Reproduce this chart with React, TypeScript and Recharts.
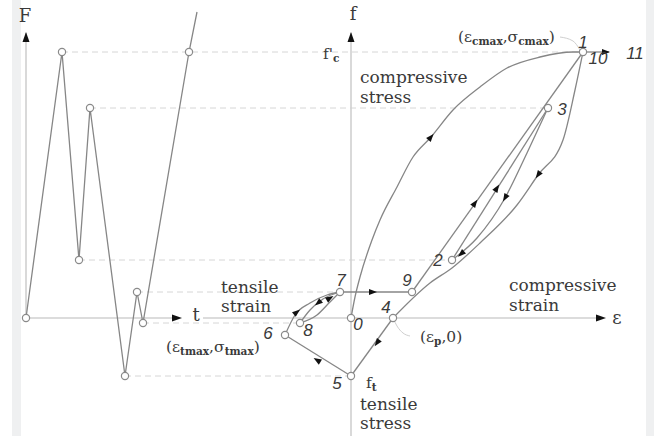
import { ComposedChart, Line, Scatter, XAxis, YAxis } from "recharts";

const W = 664;
const H = 436;

// left panel: load history F(t)
const loadT = [0, 36, 53, 64, 99, 111, 117, 163, 171];
const loadF = [0, 266, 58, 210, -58, 26, -5, 266, 306];

// numbered states on the stress-strain diagram
const stateStrain = [0, 232, 101, 197, 42, 0, -66, -11, -51, 61];
const stateStress = [0, 266, 58, 210, 0, -58, -17, 26, -5, 26];

// curved paths (strain, stress)
const envelopeStrain = [0, 4, 9, 21, 29, 46, 62, 80, 102, 129, 156, 189, 222, 232];
const envelopeStress = [0, 21, 41, 78, 98, 131, 161, 181, 208, 231, 250, 261, 266, 266];
const unloadStrain = [42, 79, 101, 129, 166, 187, 212, 224, 232];
const unloadStress = [0, 35, 50, 75, 113, 143, 178, 228, 266];
const back32Strain = [101, 126, 154, 176, 197];
const back32Stress = [58, 80, 120, 165, 210];
const close67Strain = [-66, -56, -41, -24, -11];
const close67Stress = [-17, 3, 15, 23, 26];
const up87Strain = [-51, -41, -28, -11];
const up87Stress = [-5, 8, 19, 26];
const down78Strain = [-51, -34, -21, -11];
const down78Stress = [-5, 3, 16, 26];

// straight segments, by state index
const endStrain11 = 258;
const straight = [
  [2, 3],
  [9, 1],
  [7, 9],
  [4, 5],
  [5, 6],
];

// dashed guides from the history peaks to the diagram
const guideStress = [266, 210, 58, 26, -5, -58];
const guideFrom = [-289, -261, -272, -214, -208, -226];
const guideTo = [232, 197, 101, -11, -51, 0];

// arrow heads on the paths
const arrowStrain = [80, 187, 124, 146, 154, 110, 26, -34, -54, -33, -21, 22, 255];
const arrowStress = [181, 143, 115, 130, 120, 64, -25, -42, 6, 15, 20, 26, 266];
const arrowDx = [40, -46, 171, 96, -50, -25, -42, -66, 15, -13, 10, 1, 1];
const arrowDy = [47, -65, 240, 152, -85, -22, -58, 41, 12, -11, 6, 0, 0];

// labels
const numberText = ["0", "1", "2", "3", "4", "5", "6", "7", "8", "9", "10", "11"];
const numberStrain = [7, 232, 87, 211, 35, -14, -83, -10, -43, 56, 247, 284];
const numberStress = [-6, 276, 58, 209, 11, -65, -15, 38, -12, 38, 260, 265];

const wordText = ["compressive", "stress", "compressive", "strain", "tensile", "strain", "tensile", "stress"];
const wordStrain = [9, 9, 158, 158, -130, -130, 9, 9];
const wordStress = [241, 221, 33, 13, 31, 12, -86, -105];

const mathParts = [
  [["f'", 0], ["c", 1]],
  [["f", 0], ["t", 1]],
  [["(ε", 0], ["cmax", 1], [",σ", 0], ["cmax", 1], [")", 0]],
  [["(ε", 0], ["tmax", 1], [",σ", 0], ["tmax", 1], [")", 0]],
  [["(ε", 0], ["p", 1], [",0)", 0]],
];
const mathStrain = [-28, 15, 107, -185, 69];
const mathStress = [264, -65, 281, -29, -19];

const pairs = (xs: number[], ys: number[]) => xs.map((x, i) => ({ x, y: ys[i] }));

const CURVE = "#868686";
const AXIS = "#d0d0d0";
const INK = "#3a3a3a";

function Node(p: any) {
  return <circle cx={p.cx} cy={p.cy} r={3.6} fill="#fff" stroke="#8a8a8a" strokeWidth={1.2} />;
}

function head(len: number, half: number) {
  return (p: any) => {
    const a = (Math.atan2(-p.payload.dy, p.payload.dx) * 180) / Math.PI;
    return (
      <polygon
        points={`${len / 2},0 ${-len / 2},${-half} ${-len / 2},${half}`}
        transform={`translate(${p.cx},${p.cy}) rotate(${a})`}
        fill="#111"
      />
    );
  };
}

function textShape(style: any) {
  return (p: any) => (
    <text x={p.cx} y={p.cy} dominantBaseline="central" fill={INK} {...style}>
      {p.payload.text}
    </text>
  );
}

function MathText(p: any) {
  let low = false;
  return (
    <text x={p.cx} y={p.cy} dominantBaseline="central" fontFamily="DejaVu Serif" fontSize={15.5} fill={INK}>
      {p.payload.parts.map(([s, sub]: [string, number], i: number) => {
        const dy = sub && !low ? 4 : !sub && low ? -4 : 0;
        low = !!sub;
        return (
          <tspan key={i} dy={dy} fontSize={sub ? 10.5 : 15.5} fontWeight={sub ? 700 : 400}>
            {s}
          </tspan>
        );
      })}
    </text>
  );
}

const states = pairs(stateStrain, stateStress);
const history = pairs(loadT, loadF);

export default function App() {
  const arrows = arrowStrain.map((x, i) => ({ x, y: arrowStress[i], dx: arrowDx[i], dy: arrowDy[i] }));
  const numbers = numberText.map((text, i) => ({ x: numberStrain[i], y: numberStress[i], text }));
  const words = wordText.map((text, i) => ({ x: wordStrain[i], y: wordStress[i], text }));
  const maths = mathParts.map((parts, i) => ({ x: mathStrain[i], y: mathStress[i], parts }));

  const curves = [
    pairs(envelopeStrain, envelopeStress),
    pairs(unloadStrain, unloadStress),
    pairs(back32Strain, back32Stress),
    pairs(close67Strain, close67Stress),
    pairs(up87Strain, up87Stress),
    pairs(down78Strain, down78Stress),
  ];
  const segments = straight.map(([a, b]) => [states[a], states[b]]);
  segments.push([states[1], { x: endStrain11, y: states[1].y }]);

  return (
    <div style={{ position: "fixed", left: 0, top: 0, width: W, height: H, background: "#fff" }}>
      <div style={{ position: "absolute", left: 12, top: 0, width: 9, height: H, background: "#eff0f1" }} />
      <div style={{ position: "absolute", left: 646, top: 0, width: 8, height: H, background: "#eff0f1" }} />
      <div style={{ position: "absolute", left: 0, top: 0 }}>
        <ComposedChart width={W} height={H} margin={{ top: 0, right: 0, bottom: 0, left: 0 }}>
          <XAxis xAxisId="t" type="number" dataKey="x" domain={[-26, 638]} hide allowDataOverflow />
          <XAxis xAxisId="e" type="number" dataKey="x" domain={[-351, 313]} hide allowDataOverflow />
          <YAxis type="number" dataKey="y" domain={[-118, 318]} hide allowDataOverflow />

          {guideStress.map((y, i) => (
            <Line
              key={`g${i}`}
              xAxisId="e"
              data={[{ x: guideFrom[i], y }, { x: guideTo[i], y }]}
              dataKey="y"
              stroke="#d6d6d6"
              strokeWidth={1}
              strokeDasharray="6 4"
              dot={false}
              activeDot={false}
              isAnimationActive={false}
            />
          ))}

          {/* axes */}
          <Line xAxisId="t" data={[{ x: 0, y: 0 }, { x: 0, y: 285 }]} dataKey="y" stroke={AXIS} strokeWidth={1.6} dot={false} activeDot={false} isAnimationActive={false} />
          <Line xAxisId="t" data={[{ x: 0, y: 0 }, { x: 152, y: 0 }]} dataKey="y" stroke={AXIS} strokeWidth={1.6} dot={false} activeDot={false} isAnimationActive={false} />
          <Line xAxisId="e" data={[{ x: 0, y: -118 }, { x: 0, y: 285 }]} dataKey="y" stroke={AXIS} strokeWidth={1.6} dot={false} activeDot={false} isAnimationActive={false} />
          <Line xAxisId="e" data={[{ x: -148, y: 0 }, { x: 250, y: 0 }]} dataKey="y" stroke={AXIS} strokeWidth={1.6} dot={false} activeDot={false} isAnimationActive={false} />

          {/* leaders */}
          <Line xAxisId="e" data={pairs([209, 222, 229], [281, 277, 268])} dataKey="y" type="monotone" stroke="#cfcfcf" strokeWidth={1} dot={false} activeDot={false} isAnimationActive={false} />
          <Line xAxisId="e" data={pairs([42, 46, 52, 59], [0, -8, -15, -18])} dataKey="y" type="monotone" stroke="#cfcfcf" strokeWidth={1} dot={false} activeDot={false} isAnimationActive={false} />

          <Line xAxisId="t" data={history} dataKey="y" stroke={CURVE} strokeWidth={1.3} dot={false} activeDot={false} isAnimationActive={false} />

          {curves.map((d, i) => (
            <Line key={`c${i}`} xAxisId="e" data={d} dataKey="y" type="monotone" stroke={CURVE} strokeWidth={1.3} dot={false} activeDot={false} isAnimationActive={false} />
          ))}
          {segments.map((d, i) => (
            <Line key={`s${i}`} xAxisId="e" data={d} dataKey="y" stroke={CURVE} strokeWidth={1.3} dot={false} activeDot={false} isAnimationActive={false} />
          ))}

          <Scatter xAxisId="t" data={history.slice(0, 8)} shape={Node} isAnimationActive={false} />
          <Scatter xAxisId="e" data={states} shape={Node} isAnimationActive={false} />
          <Scatter xAxisId="e" data={arrows} shape={head(8, 3)} isAnimationActive={false} />
          <Scatter xAxisId="t" data={[{ x: 0, y: 281, dx: 0, dy: 1 }, { x: 151, y: 0, dx: 1, dy: 0 }]} shape={head(10, 3.5)} isAnimationActive={false} />
          <Scatter xAxisId="e" data={[{ x: 0, y: 281, dx: 0, dy: 1 }, { x: 250, y: 0, dx: 1, dy: 0 }]} shape={head(10, 3.5)} isAnimationActive={false} />

          <Scatter xAxisId="t" data={[{ x: -1, y: 303, text: "F" }, { x: 170, y: 4, text: "t" }]} shape={textShape({ fontFamily: "DejaVu Serif", fontSize: 18, textAnchor: "middle" })} isAnimationActive={false} />
          <Scatter xAxisId="e" data={[{ x: 2, y: 305, text: "f" }, { x: 266, y: 1, text: "ε" }]} shape={textShape({ fontFamily: "DejaVu Serif", fontSize: 18, textAnchor: "middle" })} isAnimationActive={false} />
          <Scatter xAxisId="e" data={words} shape={textShape({ fontFamily: "DejaVu Serif", fontSize: 17 })} isAnimationActive={false} />
          <Scatter xAxisId="e" data={numbers} shape={textShape({ fontFamily: "Liberation Sans", fontStyle: "italic", fontSize: 17, textAnchor: "middle" })} isAnimationActive={false} />
          <Scatter xAxisId="e" data={maths} shape={MathText} isAnimationActive={false} />
        </ComposedChart>
      </div>
    </div>
  );
}
